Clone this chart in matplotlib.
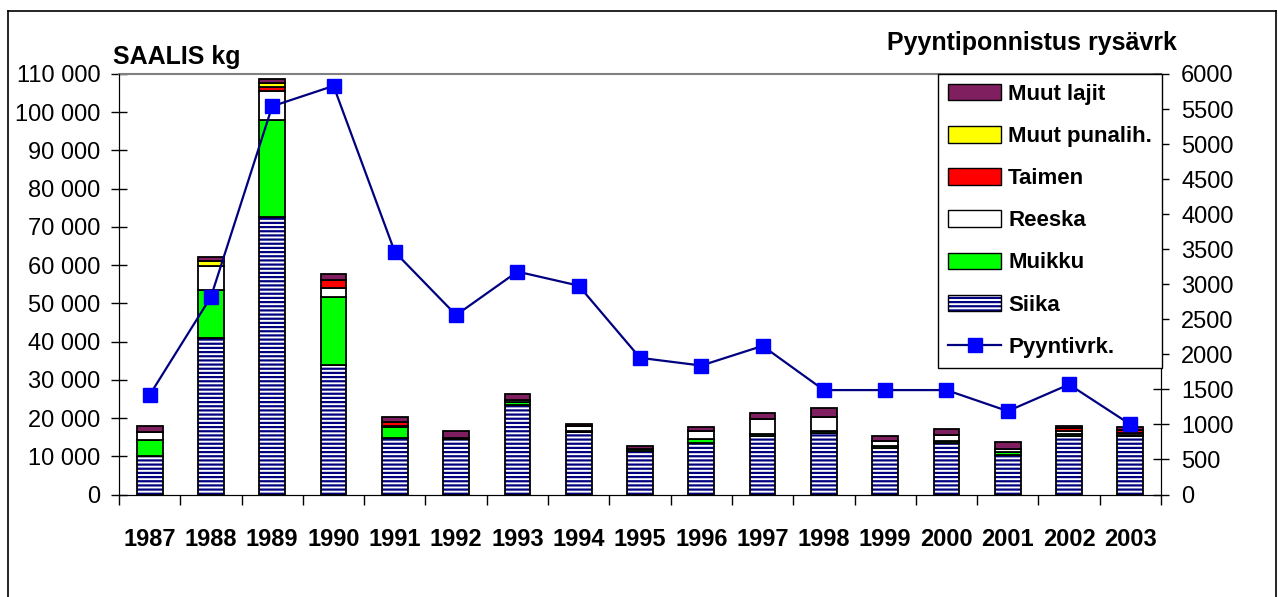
import matplotlib.pyplot as plt
import numpy as np
from matplotlib.patches import Patch
from matplotlib.lines import Line2D
from matplotlib.ticker import FuncFormatter

plt.rcParams['font.family'] = ['Liberation Sans', 'DejaVu Sans']
plt.rcParams['hatch.linewidth'] = 1.6

# data
years = ['1987', '1988', '1989', '1990', '1991', '1992', '1993', '1994', '1995',
         '1996', '1997', '1998', '1999', '2000', '2001', '2002', '2003']
siika = [10000, 41000, 72500, 34000, 14800, 14500, 23500, 16300, 11500,
         13500, 15200, 16000, 12200, 13500, 10400, 15400, 15200]
muikku = [4300, 12500, 25500, 17700, 2800, 0, 800, 300, 300,
          900, 500, 700, 500, 400, 600, 300, 300]
reeska = [2100, 6300, 7600, 2400, 400, 300, 300, 1200, 0,
          2200, 4000, 3600, 1400, 1700, 900, 900, 700]
taimen = [0, 0, 1000, 2100, 900, 0, 0, 0, 0, 0, 0, 0, 0, 0, 0, 800, 800]
punalih = [0, 1200, 1000, 0, 0, 0, 0, 0, 0, 0, 0, 0, 0, 0, 0, 0, 0]
muut = [1600, 1000, 1200, 1500, 1300, 1900, 1600, 700, 800,
        1000, 1600, 2200, 1300, 1500, 1900, 500, 700]
pyynti = [1420, 2820, 5540, 5830, 3460, 2560, 3180, 2980, 1950,
          1840, 2120, 1490, 1490, 1490, 1190, 1570, 1000]

fig = plt.figure(figsize=(12.78, 5.97), dpi=100)
ax = fig.add_axes([119 / 1278, 1 - 494.5 / 597, (1161 - 119) / 1278, (494.5 - 74) / 597])
x = np.arange(len(years))
w = 0.42
ew = 1.3

# Siika: navy stripes on white, black outline
ax.bar(x, siika, w, color='white', edgecolor='#000080', hatch='----', linewidth=0, zorder=2)
ax.bar(x, siika, w, color='none', edgecolor='black', linewidth=ew, zorder=3)
bottom = np.array(siika, dtype=float)
series = [(muikku, '#00FF00'), (reeska, 'white'), (taimen, '#FF0000'),
          (punalih, '#FFFF00'), (muut, '#7F1F5F')]
for vals, col in series:
    v = np.array(vals, dtype=float)
    ax.bar(x, v, w, bottom=bottom, color=col, edgecolor='black', linewidth=ew, zorder=3)
    bottom += v

ax.set_xlim(-0.5, len(years) - 0.5)
ax.set_ylim(0, 110000)
ax.set_yticks(np.arange(0, 110001, 10000))
ax.yaxis.set_major_formatter(FuncFormatter(lambda v, p: f'{int(v):,}'.replace(',', ' ')))
ax.tick_params(axis='y', direction='inout', length=11, width=1, labelsize=17, pad=8)
ax.set_xticks(x)
ax.set_xticklabels(years, fontsize=17, fontweight='bold')
ax.set_xticks(np.arange(-0.5, len(years)), minor=True)
ax.tick_params(axis='x', which='major', length=0, pad=24)
ax.tick_params(axis='x', which='minor', length=7, width=1, direction='out')
for s in ['left', 'bottom', 'right']:
    ax.spines[s].set_color('black')
ax.spines['top'].set_color('#808080')
ax.spines['top'].set_linewidth(1.5)

ax2 = ax.twinx()
ax2.plot(x, pyynti, color='#000080', linewidth=1.6, marker='s', markersize=9.5,
         markerfacecolor='#0000FF', markeredgecolor='#0000FF', zorder=5)
ax2.set_ylim(0, 6000)
ax2.set_yticks(np.arange(0, 6001, 500))
ax2.tick_params(axis='y', direction='inout', length=11, width=1, labelsize=17, pad=9)
ax2.spines['top'].set_visible(False)

fig.text(113 / 1278, 1 - 57 / 597, 'SAALIS kg', fontsize=18, fontweight='bold', va='center')
fig.text(1177 / 1278, 1 - 43 / 597, 'Pyyntiponnistus rysävrk', fontsize=18,
         fontweight='bold', va='center', ha='right')

handles = [
    Patch(facecolor='#7F1F5F', edgecolor='black'),
    Patch(facecolor='#FFFF00', edgecolor='black'),
    Patch(facecolor='#FF0000', edgecolor='black'),
    Patch(facecolor='white', edgecolor='black'),
    Patch(facecolor='#00FF00', edgecolor='black'),
    (Patch(facecolor='white', edgecolor='#000080', hatch='----', linewidth=0),
     Patch(facecolor='none', edgecolor='black')),
    Line2D([], [], color='#000080', linewidth=1.6, marker='s', markersize=9.5,
           markerfacecolor='#0000FF', markeredgecolor='#0000FF'),
]
labels = ['Muut lajit', 'Muut punalih.', 'Taimen', 'Reeska', 'Muikku', 'Siika', 'Pyyntivrk.']
leg = fig.legend(handles, labels, loc='upper right', bbox_to_anchor=(1162 / 1278, 1 - 74 / 597),
                 bbox_transform=fig.transFigure, borderaxespad=0, fancybox=False,
                 edgecolor='black', framealpha=1, prop={'weight': 'bold', 'size': 16},
                 handlelength=2.4, handleheight=0.75, handletextpad=0.3,
                 labelspacing=0.95, borderpad=0.45)
leg.get_frame().set_linewidth(1)
for t in leg.get_texts():
    t.set_horizontalalignment('left')

# outer chart frame
for xs, ys in [([8, 8], [11, 600]), ([8, 1276], [11, 11]), ([1276, 1276], [11, 600])]:
    fig.add_artist(Line2D([v / 1278 for v in xs], [1 - v / 597 for v in ys],
                          color='black', linewidth=1.2))

fig.savefig('out.png', dpi=100)
